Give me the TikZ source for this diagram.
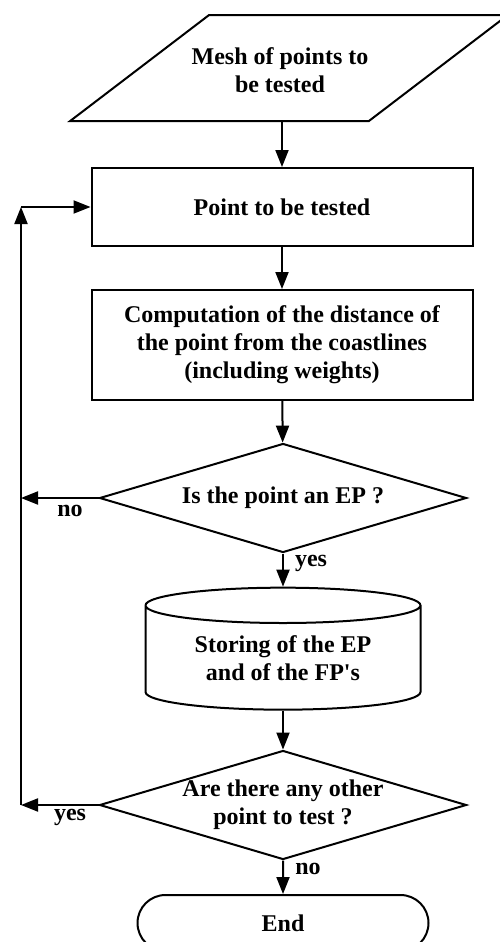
\documentclass[tikz,border=0pt]{standalone}
\usepackage{fontspec}
\setmainfont{Liberation Serif}
\usetikzlibrary{arrows.meta,shapes.geometric,shapes.misc}

\begin{document}
\begin{tikzpicture}[
	x=0.5pt, y=-0.5pt,
	every node/.style={font=\fontsize{12}{14}\selectfont\bfseries},
	io/.style={
		trapezium,
		trapezium left angle=49,
		trapezium right angle=131,
		trapezium stretches=true,
		draw=black,
		line width=1pt,
		minimum width=219pt,
		minimum height=53pt,
		align=center,
		inner sep=2pt
	},
	proc/.style={
		rectangle,
		draw=black,
		line width=1pt,
		minimum width=190.5pt,
		align=center,
		inner sep=0pt
	},
	decision/.style={
		diamond,
		aspect=3.37,
		draw=black,
		line width=1pt,
		minimum width=183.5pt,
		minimum height=54.5pt,
		align=center,
		inner sep=-1pt
	},
	store/.style={
		cylinder,
		shape border rotate=90,
		aspect=0.2,
		draw=black,
		line width=1pt,
		minimum width=137.5pt,
		minimum height=61pt,
		align=center,
		inner sep=0pt
	},
	term/.style={
		rounded rectangle,
		draw=black,
		line width=1pt,
		minimum width=145.5pt,
		minimum height=28pt,
		inner sep=0pt
	},
	lbl/.style={inner sep=0pt},
	edge/.style={-{Triangle[length=8.5pt,width=6.5pt]}, line width=1pt, black}
]
\useasboundingbox (0,0) rectangle (499,942);

\node[io] (mesh) at (289,68) {};
\node[align=center] (meshtxt) at (280,70) {Mesh of points to\\be tested};
\node[proc, minimum height=39pt] (pt) at (282,207) {Point to be tested};
\node[proc, minimum height=55pt] (comp) at (282,345) {Computation of the distance of\\the point from the coastlines\\(including weights)};
\node[decision] (isep) at (283,498) {Is the point an EP ?};
\node[store] (ep) at (283,658) {Storing of the EP\\and of the FP\textquotesingle s};
\node[decision] (other) at (283,805) {Are there any other\\point to test ?};
\node[term] (end) at (283,923) {End};

\coordinate (back) at (21,207);

\node[lbl] (no1) at (70,511) {no};
\node[lbl] (yes1) at (311,563) {yes};
\node[lbl] (yes2) at (70,817) {yes};
\node[lbl] (no2) at (308,869) {no};

\draw[edge] (mesh.south -| pt.north) -- (pt.north);
\draw[edge] (pt) -- (comp);
\draw[edge] (comp) -- (isep);
\draw[edge] (isep) -- (ep);
\draw[edge] (ep) -- (other);
\draw[edge] (other) -- (end);
\draw[edge] (isep.west) -- (isep.west -| back);
\draw[edge] (other.west) -- (other.west -| back);
\draw[edge] (other.west -| back) -- (back);
\draw[edge] (back) -- (pt.west);
\end{tikzpicture}
\end{document}
